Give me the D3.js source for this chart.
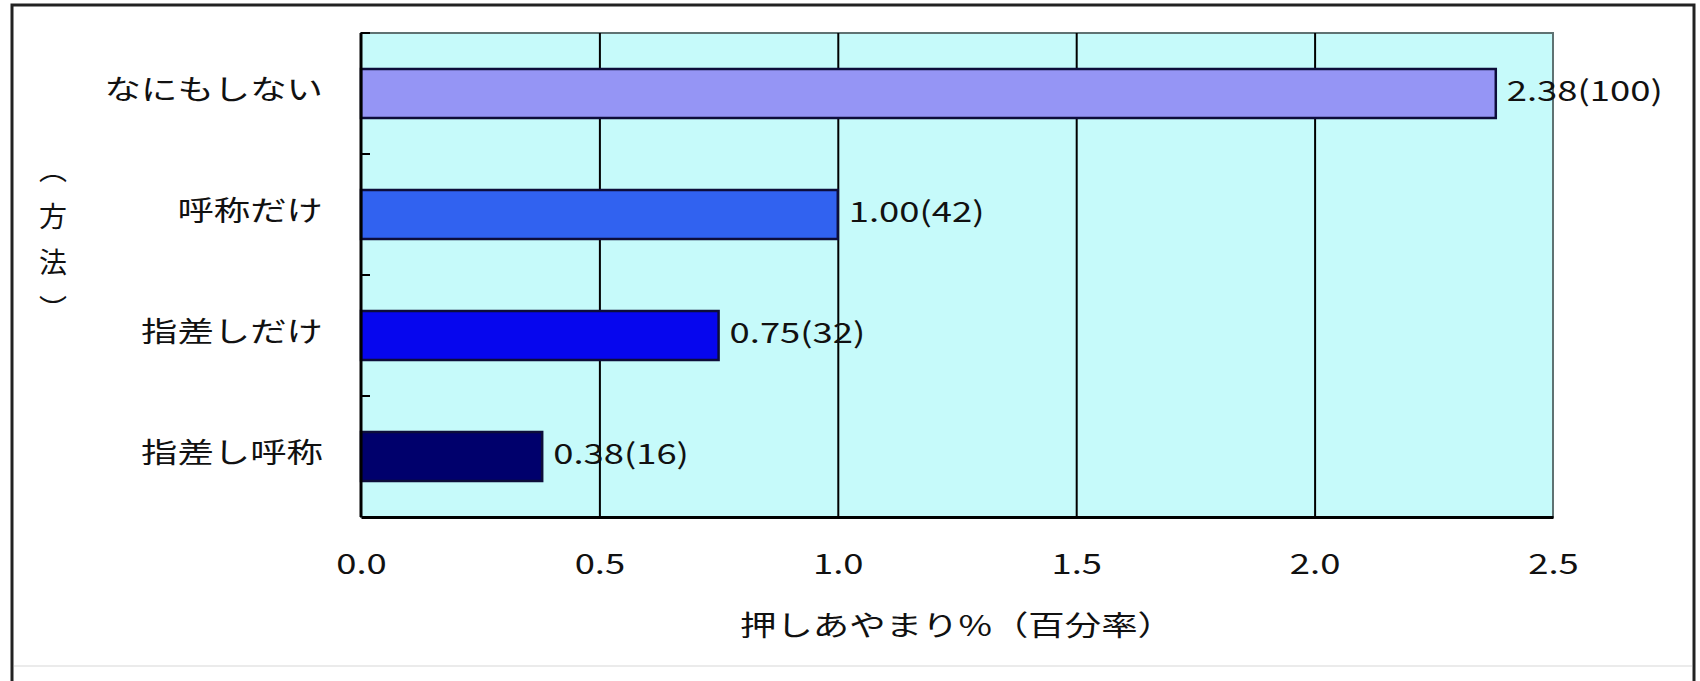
<!DOCTYPE html>
<html>
<head>
<meta charset="utf-8">
<script src="https://cdn.jsdelivr.net/npm/d3@7"></script>
<style>
  body { margin: 0; background: #ffffff; }
  text { font-family: "Noto Sans CJK JP", "Noto Sans", sans-serif; fill: #111; }
</style>
</head>
<body>
<script>
// categories, values and the ratio shown in brackets (なにもしない = 100)
var methods = ["なにもしない", "呼称だけ", "指差しだけ", "指差し呼称"];
var errorRates = [2.38, 1.00, 0.75, 0.38];
var ratios = [100, 42, 32, 16];
var xTicks = [0, 0.5, 1.0, 1.5, 2.0, 2.5];
var barColors = ["#9595f5", "#3162f0", "#0606ee", "#00006c"];
var xTitle = "押しあやまり%（百分率）";
var yTitle = ["︵", "方", "法", "︶"];

var w = 1700;
var h = 681;
// plot box (note: "top" is taken by window.top, so use other names)
var plotL = 361, plotR = 1553, plotT = 33, plotB = 517;
// the original font is wide, so text gets stretched sideways
var stretch = 1.3;

var svg = d3.select("body")
  .append("svg")
  .attr("width", w)
  .attr("height", h);

// outer frame (bottom edge runs off the picture)
svg.append("path")
  .attr("d", "M12," + h + "V5H1694V" + h)
  .attr("fill", "none")
  .attr("stroke", "#222")
  .attr("stroke-width", 3);
svg.append("line")
  .attr("x1", 14).attr("x2", 1692)
  .attr("y1", 666).attr("y2", 666)
  .attr("stroke", "#ebebeb")
  .attr("stroke-width", 2);

var x = d3.scaleLinear()
  .domain([0, 2.5])
  .range([plotL, plotR]);

var y = d3.scaleBand()
  .domain(methods)
  .range([plotT, plotB])
  .paddingInner(0.595)
  .paddingOuter(0.2975);

// plot background
svg.append("rect")
  .attr("x", plotL)
  .attr("y", plotT)
  .attr("width", plotR - plotL)
  .attr("height", plotB - plotT)
  .attr("fill", "#c6fafa")
  .attr("stroke", "#5f7272")
  .attr("stroke-width", 2);

// vertical gridlines
svg.append("g")
  .attr("transform", "translate(0," + plotB + ")")
  .call(d3.axisBottom(x).tickValues(xTicks.slice(1, -1)).tickSize(-(plotB - plotT)).tickFormat(""))
  .call(function(g) { g.select(".domain").remove(); })
  .selectAll("line")
  .attr("stroke", "#000")
  .attr("stroke-width", 2);

// bars
svg.selectAll("rect.bar")
  .data(methods)
  .enter()
  .append("rect")
  .attr("class", "bar")
  .attr("x", x(0))
  .attr("y", function(d) { return y(d); })
  .attr("width", function(d, i) { return x(errorRates[i]) - x(0); })
  .attr("height", y.bandwidth())
  .attr("fill", function(d, i) { return barColors[i]; })
  .attr("stroke", "#0d0d3a")
  .attr("stroke-width", 2.5);

// value labels, sitting a little above the bar middle
svg.selectAll("text.val")
  .data(methods)
  .enter()
  .append("text")
  .attr("class", "val")
  .attr("transform", function(d, i) {
    return "translate(" + (x(errorRates[i]) + 11) + "," + (y(d) + y.bandwidth() / 2 - 5) + ") scale(" + stretch + ",1)";
  })
  .attr("dominant-baseline", "central")
  .attr("font-size", 28)
  .text(function(d, i) { return errorRates[i].toFixed(2) + "(" + ratios[i] + ")"; });

// x axis with tick labels
var xAxis = d3.axisBottom(x)
  .tickValues(xTicks)
  .tickSize(0)
  .tickPadding(37)
  .tickFormat(d3.format(".1f"));

var gx = svg.append("g")
  .attr("transform", "translate(0," + plotB + ")")
  .call(xAxis);
gx.select(".domain").attr("stroke", "#000").attr("stroke-width", 3);
gx.selectAll("text")
  .attr("font-size", 28)
  .attr("fill", "#111")
  .attr("font-family", "\"Noto Sans CJK JP\", sans-serif")
  .attr("transform", "scale(" + stretch + ",1)");

// y axis: line plus small inward ticks at band edges
var edges = d3.range(methods.length + 1).map(function(i) { return plotT + i * y.step(); });
svg.append("line")
  .attr("x1", plotL).attr("x2", plotL)
  .attr("y1", plotT).attr("y2", plotB)
  .attr("stroke", "#000")
  .attr("stroke-width", 3);
svg.selectAll("line.ytick")
  .data(edges.slice(0, -1))
  .enter()
  .append("line")
  .attr("class", "ytick")
  .attr("x1", plotL).attr("x2", plotL + 9)
  .attr("y1", function(d) { return d; })
  .attr("y2", function(d) { return d; })
  .attr("stroke", "#000")
  .attr("stroke-width", 2);

// category labels
svg.selectAll("text.cat")
  .data(methods)
  .enter()
  .append("text")
  .attr("class", "cat")
  .attr("transform", function(d) {
    return "translate(323," + (y(d) + y.bandwidth() / 2 - 6) + ") scale(" + stretch + ",1)";
  })
  .attr("text-anchor", "end")
  .attr("dominant-baseline", "central")
  .attr("font-size", 28)
  .text(function(d) { return d; });

// x title
svg.append("text")
  .attr("transform", "translate(" + ((plotL + plotR) / 2) + ",623) scale(" + stretch + ",1)")
  .attr("text-anchor", "middle")
  .attr("dominant-baseline", "central")
  .attr("font-size", 28)
  .text(xTitle);

// y title, stacked characters
svg.selectAll("text.ytitle")
  .data(yTitle)
  .enter()
  .append("text")
  .attr("class", "ytitle")
  .attr("x", 53)
  .attr("y", function(d, i) { return 168 + i * 46.5; })
  .attr("text-anchor", "middle")
  .attr("dominant-baseline", "central")
  .attr("font-size", 28)
  .text(function(d) { return d; });
</script>
</body>
</html>
